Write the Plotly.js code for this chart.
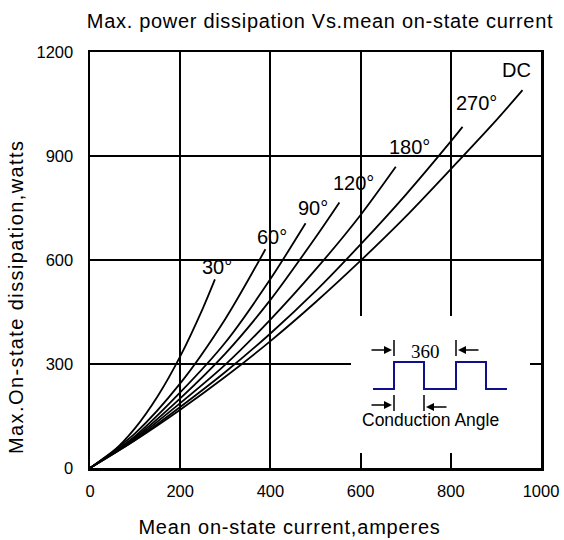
<!DOCTYPE html>
<html>
<head>
<meta charset="utf-8">
<script src="https://cdn.plot.ly/plotly-3.0.1.min.js"></script>
<style>html,body{margin:0;padding:0;background:#fff;}#chart{width:564px;height:540px;}</style>
</head>
<body>
<div id="chart"></div>
<script>
// ---- data ----
const seriesNames = ["30°", "60°", "90°", "120°", "180°", "270°", "DC"];
const x30 = [0, 50, 100, 150, 200, 250, 277];
const y30 = [0, 46, 115, 207, 322, 460, 544];
const x60 = [0, 100, 200, 300, 389];
const y60 = [0, 100, 244, 430, 631];
const x90 = [0, 100, 200, 300, 400, 478];
const y90 = [0, 92, 218, 362, 545, 706];
const x120 = [0, 100, 200, 300, 400, 500, 553];
const y120 = [0, 88, 201, 330, 485, 665, 766];
const x180 = [0, 100, 200, 300, 400, 500, 600, 678];
const y180 = [0, 84, 187, 298, 428, 572, 730, 869];
const x270 = [0, 100, 200, 300, 400, 500, 600, 700, 800, 826];
const y270 = [0, 81, 176, 277, 388, 510, 645, 788, 942, 984];
const xDC = [0, 100, 200, 300, 400, 500, 600, 700, 800, 900, 959];
const yDC = [0, 80, 168, 263, 366, 478, 598, 725, 862, 1002, 1090];
const xTicks = [0, 200, 400, 600, 800, 1000];
const xTickText = ["0", "200", "400", "600", "800", "1000"];
const yTicks = [0, 300, 600, 900, 1200];
const yTickText = ["0", "300", "600", "900", "1200"];

const xs = [x30, x60, x90, x120, x180, x270, xDC];
const ys = [y30, y60, y90, y120, y180, y270, yDC];

// label anchor positions (data units)
const labelX = [281, 403, 495, 584, 709, 857, 946];
const labelY = [581, 667, 749, 821, 927, 1052, 1148];

const FONT = '"Liberation Sans", Arial, sans-serif';
const TITLE = 'Max. power dissipation Vs.mean on-state current';
const XTITLE = 'Mean on-state current,amperes';
const YTITLE = 'Max.On-state dissipation,watts';

const traces = seriesNames.map((n, i) => ({
  type: 'scatter', mode: 'lines', name: n,
  x: xs[i], y: ys[i],
  line: {color: '#000', width: 1.8, shape: 'spline', smoothing: 0.8},
  hoverinfo: 'skip', showlegend: false
}));

// plot-area pixel helpers for the inset decoration
const L = 90, T = 52, W = 451, H = 416;
const px = p => (p - L) / W;          // paper x
const py = p => (T + H - p) / H;      // paper y

const shapes = [];
const annotations = [];

// white inset box
shapes.push({type: 'rect', xref: 'paper', yref: 'paper', layer: 'above',
  x0: px(351), x1: px(530), y0: py(453), y1: py(316),
  fillcolor: '#fff', line: {width: 0}});

// square wave
const waveX = [373, 394, 394, 424, 424, 456, 456, 486, 486, 507];
const waveY = [389, 389, 362, 362, 389, 389, 362, 362, 389, 389];
let path = '';
waveX.forEach((v, i) => { path += (i ? 'L' : 'M') + px(v) + ',' + py(waveY[i]); });
shapes.push({type: 'path', xref: 'paper', yref: 'paper', layer: 'above', path: path,
  line: {color: '#10108c', width: 2}});

// vertical marker ticks
[[394, 340, 356], [456, 340, 356], [394, 395, 411], [424, 395, 411]].forEach(t => {
  shapes.push({type: 'line', xref: 'paper', yref: 'paper', layer: 'above',
    x0: px(t[0]), x1: px(t[0]), y0: py(t[1]), y1: py(t[2]),
    line: {color: '#000', width: 1.5}});
});

// arrows [headX, headY, tailDx]
[[392, 350, -22], [458, 350, 22], [392, 405, -22], [426, 407, 22]].forEach(a => {
  annotations.push({xref: 'paper', yref: 'paper', x: px(a[0]), y: py(a[1]),
    text: '', showarrow: true, arrowhead: 2, arrowsize: 1, arrowwidth: 1.6,
    arrowcolor: '#000', ax: a[2], ay: 0, standoff: 0});
});

annotations.push({xref: 'paper', yref: 'paper', x: px(425), y: py(351), text: '360',
  showarrow: false, font: {family: '"Liberation Serif", "Times New Roman", serif', size: 19, color: '#000'},
  xanchor: 'center', yanchor: 'middle'});
annotations.push({xref: 'paper', yref: 'paper', x: px(430), y: py(420), text: 'Conduction Angle',
  showarrow: false, font: {family: FONT, size: 17.5, color: '#000'},
  xanchor: 'center', yanchor: 'middle'});

// curve labels
seriesNames.forEach((n, i) => {
  annotations.push({xref: 'x', yref: 'y', x: labelX[i], y: labelY[i], text: n,
    showarrow: false, font: {family: FONT, size: 20, color: '#000'},
    xanchor: 'center', yanchor: 'middle'});
});

// axis titles as annotations for exact placement
annotations.push({xref: 'paper', yref: 'paper', x: px(289), y: py(527),
  text: XTITLE, showarrow: false,
  font: {family: FONT, size: 20, color: '#000'}, xanchor: 'center', yanchor: 'middle'});
annotations.push({xref: 'paper', yref: 'paper', x: px(16), y: py(297),
  text: YTITLE, showarrow: false, textangle: -90,
  font: {family: FONT, size: 20, color: '#000'}, xanchor: 'center', yanchor: 'middle'});

const layout = {
  width: 564, height: 540,
  margin: {l: L, r: 564 - L - W, t: T, b: 540 - T - H, pad: 0},
  paper_bgcolor: '#fff', plot_bgcolor: '#fff',
  font: {family: FONT, color: '#000', size: 16},
  title: {text: TITLE,
    x: 320 / 564, xanchor: 'center', xref: 'container', yref: 'container', y: 1 - 21 / 540, yanchor: 'middle',
    font: {family: FONT, size: 20, color: '#000'}},
  xaxis: {range: [0, 1000], tickvals: xTicks, ticktext: xTickText, ticks: '',
    showgrid: true, gridcolor: '#000', gridwidth: 2, zeroline: false,
    showline: true, linecolor: '#000', linewidth: 2.5, mirror: true,
    ticklabelstandoff: 7, tickfont: {size: 16.5}, fixedrange: true},
  yaxis: {range: [0, 1200], tickvals: yTicks, ticktext: yTickText, ticks: '',
    showgrid: true, gridcolor: '#000', gridwidth: 2, zeroline: false,
    showline: true, linecolor: '#000', linewidth: 2.5, mirror: true,
    ticklabelstandoff: 11, tickfont: {size: 16.5}, fixedrange: true},
  shapes: shapes,
  annotations: annotations,
  showlegend: false
};

const spacing = {};
spacing[TITLE] = '0.7px';
spacing[XTITLE] = '0.8px';
spacing[YTITLE] = '1.4px';

Plotly.newPlot('chart', traces, layout, {displayModeBar: false, staticPlot: true}).then(gd => {
  gd.querySelectorAll('text').forEach(t => {
    const s = spacing[t.textContent];
    if (s) t.style.letterSpacing = s;
  });
});
</script>
</body>
</html>
